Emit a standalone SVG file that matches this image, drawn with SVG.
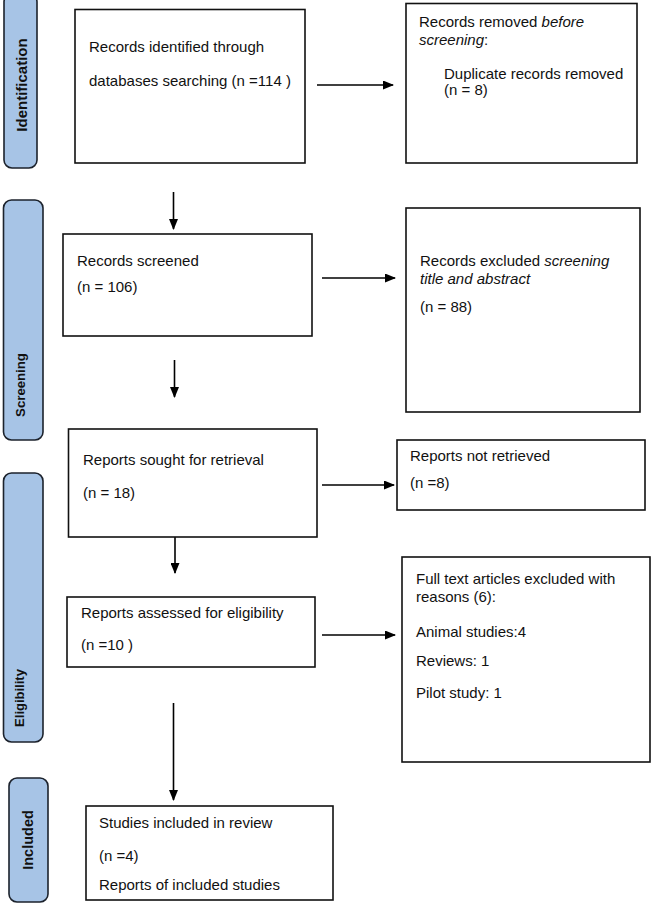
<svg xmlns="http://www.w3.org/2000/svg" width="651" height="903" viewBox="0 0 651 903">
<style>
.box{fill:#fff;stroke:#111;stroke-width:1.6}
.bar{fill:#a7c4e6;stroke:#1c222c;stroke-width:1.6}
.t{font-family:"Liberation Sans",Arial,sans-serif;font-size:15px;fill:#111}
.lab{font-family:"Liberation Sans",Arial,sans-serif;font-weight:bold;fill:#111;text-anchor:middle}
.c{stroke:#000;stroke-width:1.6;fill:none;marker-end:url(#ah)}
</style>
<defs>
<marker id="ah" markerUnits="userSpaceOnUse" markerWidth="11" markerHeight="9" refX="10" refY="4.5" orient="auto">
<path d="M0,0 L11,4.5 L0,9 z" fill="#000"/>
</marker>
</defs>
<rect width="651" height="903" fill="#fff"/>
<g id="bar-identification">
<rect class="bar" x="4" y="-6" width="33" height="174" rx="8"/>
<text class="lab" font-size="15" transform="translate(26.5,85) rotate(-90)">Identification</text>
</g>
<g id="bar-screening">
<rect class="bar" x="3.5" y="200" width="39.5" height="240" rx="8"/>
<text class="lab" font-size="13.2" transform="translate(25,385) rotate(-90)">Screening</text>
</g>
<g id="bar-eligibility">
<rect class="bar" x="3.5" y="473" width="39.5" height="269" rx="8"/>
<text class="lab" font-size="13" transform="translate(23.5,698) rotate(-90)">Eligibility</text>
</g>
<g id="bar-included">
<rect class="bar" x="9" y="778" width="39" height="124" rx="8"/>
<text class="lab" font-size="14.5" transform="translate(32.5,840) rotate(-90)">Included</text>
</g>
<g id="connectors">
<line class="c" x1="317" y1="85" x2="393" y2="85"/>
<line class="c" x1="173.5" y1="192" x2="173.5" y2="229"/>
<line class="c" x1="322" y1="278" x2="395" y2="278"/>
<line class="c" x1="174.5" y1="360" x2="174.5" y2="397"/>
<line class="c" x1="322" y1="485" x2="394" y2="485"/>
<line class="c" x1="175" y1="537" x2="175" y2="573"/>
<line class="c" x1="322" y1="635" x2="395" y2="635"/>
<line class="c" x1="173.5" y1="703" x2="173.5" y2="800"/>
</g>
<g id="identified">
<rect class="box" x="75" y="9.5" width="230" height="153.5"/>
<text class="t" x="89" y="52">Records identified through</text>
<text class="t" x="89" y="86">databases searching (n =114 )</text>
</g>
<g id="removed">
<rect class="box" x="406" y="3.5" width="231" height="159.5"/>
<text class="t" x="419" y="27">Records removed <tspan font-style="italic">before</tspan></text>
<text class="t" x="419" y="45"><tspan font-style="italic">screening</tspan>:</text>
<text class="t" x="444" y="79">Duplicate records removed</text>
<text class="t" x="444" y="95">(n = 8)</text>
</g>
<g id="screened">
<rect class="box" x="63" y="234" width="249" height="102"/>
<text class="t" x="77" y="266">Records screened</text>
<text class="t" x="77" y="292">(n = 106)</text>
</g>
<g id="excluded">
<rect class="box" x="406" y="208" width="234" height="204"/>
<text class="t" x="420" y="266">Records excluded <tspan font-style="italic">screening</tspan></text>
<text class="t" x="420" y="284" font-style="italic">title and abstract</text>
<text class="t" x="420" y="312">(n = 88)</text>
</g>
<g id="sought">
<rect class="box" x="68.5" y="429" width="248.5" height="108"/>
<text class="t" x="83" y="465">Reports sought for retrieval</text>
<text class="t" x="83" y="498">(n = 18)</text>
</g>
<g id="not-retrieved">
<rect class="box" x="397" y="440" width="248" height="70"/>
<text class="t" x="410" y="461">Reports not retrieved</text>
<text class="t" x="410" y="488">(n =8)</text>
</g>
<g id="assessed">
<rect class="box" x="67" y="597" width="248" height="70"/>
<text class="t" x="81" y="618">Reports assessed for eligibility</text>
<text class="t" x="81" y="650">(n =10 )</text>
</g>
<g id="full-text-excluded">
<rect class="box" x="402" y="557" width="248" height="205"/>
<text class="t" x="416" y="584">Full text articles excluded with</text>
<text class="t" x="416" y="602">reasons (6):</text>
<text class="t" x="416" y="637">Animal studies:4</text>
<text class="t" x="416" y="666">Reviews: 1</text>
<text class="t" x="416" y="698">Pilot study: 1</text>
</g>
<g id="included">
<rect class="box" x="86" y="806" width="247" height="94"/>
<text class="t" x="99" y="828">Studies included in review</text>
<text class="t" x="99" y="861">(n =4)</text>
<text class="t" x="99" y="890">Reports of included studies</text>
</g>
</svg>
